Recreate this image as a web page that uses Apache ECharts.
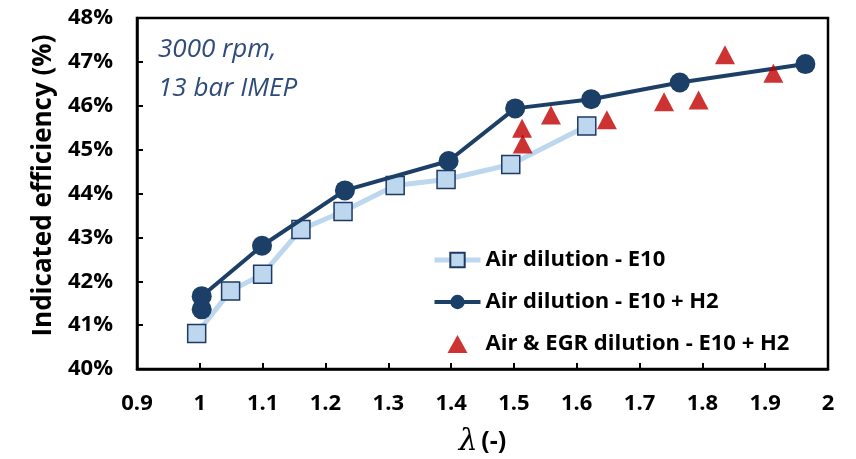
<!DOCTYPE html>
<html>
<head>
<meta charset="utf-8">
<script src="https://cdn.jsdelivr.net/npm/echarts@6/dist/echarts.min.js"></script>
<style>
  html, body { margin: 0; padding: 0; background: #fff; }
  #chart { width: 856px; height: 459px; }
</style>
</head>
<body>
<div id="chart"></div>
<script>
// Air dilution - E10
var airX = [0.995, 1.049, 1.100, 1.161, 1.228, 1.311, 1.392, 1.495, 1.616];
var airY = [40.81, 41.78, 42.16, 43.18, 43.59, 44.18, 44.32, 44.66, 45.54];

// Air dilution - E10 + H2
var h2X = [1.003, 1.003, 1.099, 1.231, 1.396, 1.502, 1.623, 1.764, 1.964];
var h2Y = [41.36, 41.66, 42.81, 44.07, 44.74, 45.94, 46.15, 46.53, 46.95];

// Air & EGR dilution - E10 + H2
var egrX = [1.513, 1.514, 1.559, 1.648, 1.739, 1.794, 1.836, 1.913];
var egrY = [45.49, 45.13, 45.79, 45.68, 46.09, 46.13, 47.16, 46.74];

var seriesNames = ['Air dilution - E10', 'Air dilution - E10 + H2', 'Air & EGR dilution - E10 + H2'];

function pairs(xs, ys) {
    return xs.map(function (x, i) { return [x, ys[i]]; });
}

var font = '"Open Sans", "Liberation Sans", sans-serif';
var triIcon = 'path://M10,0 L20,18 L0,18 Z';

var myChart = echarts.init(document.getElementById('chart'));
var option = {
    backgroundColor: '#fff',
    animation: false,
    grid: {
        left: 137,
        top: 18,
        right: 28,
        bottom: 90,
        outerBoundsMode: 'none',
        containLabel: false,
        show: true,
        borderColor: '#000',
        borderWidth: 2.5
    },
    legend: {
        orient: 'vertical',
        left: 427,
        top: 244,
        itemWidth: 46,
        itemHeight: 18,
        itemGap: 20,
        data: [
            { name: seriesNames[0], lineStyle: { width: 5 } },
            { name: seriesNames[1], lineStyle: { width: 4 } },
            { name: seriesNames[2], icon: triIcon }
        ],
        textStyle: {
            fontFamily: font,
            fontWeight: 'bold',
            fontSize: 22,
            color: '#000'
        }
    },
    graphic: [
        {
            type: 'text',
            left: 158,
            top: 30,
            style: {
                text: '3000 rpm,\n13 bar IMEP',
                fontFamily: font,
                fontStyle: 'italic',
                fontSize: 26,
                lineHeight: 39,
                fill: '#2F4B7C'
            }
        }
    ],
    xAxis: {
        type: 'value',
        min: 0.9,
        max: 2,
        interval: 0.1,
        name: '{l|λ} {b|(-)}',
        nameLocation: 'middle',
        nameGap: 58,
        nameTextStyle: {
            rich: {
                l: { fontFamily: '"DejaVu Serif", serif', fontStyle: 'italic', fontSize: 30, color: '#000' },
                b: { fontFamily: font, fontWeight: 'bold', fontSize: 25, color: '#000' }
            }
        },
        splitLine: { show: false },
        axisLine: { lineStyle: { color: '#000', width: 2.5 } },
        axisTick: { inside: true, length: 6, lineStyle: { color: '#000', width: 2 } },
        axisLabel: {
            margin: 24,
            fontFamily: font,
            fontWeight: 'bold',
            fontSize: 22,
            color: '#000',
            formatter: function (v) { return String(+v.toFixed(1)); }
        }
    },
    yAxis: {
        type: 'value',
        min: 40,
        max: 48,
        interval: 1,
        name: 'Indicated efficiency (%)',
        nameLocation: 'middle',
        nameGap: 80,
        nameTextStyle: {
            fontFamily: font,
            fontWeight: 'bold',
            fontSize: 26,
            color: '#000',
            padding: [0, 0, 0, 16]
        },
        splitLine: { show: false },
        axisLine: { lineStyle: { color: '#000', width: 2.5 } },
        axisTick: { inside: true, length: 6, lineStyle: { color: '#000', width: 2 } },
        axisLabel: {
            margin: 24,
            fontFamily: font,
            fontWeight: 'bold',
            fontSize: 22,
            color: '#000',
            formatter: '{value}%'
        }
    },
    series: [
        {
            name: seriesNames[0],
            type: 'line',
            data: pairs(airX, airY),
            symbol: 'rect',
            symbolSize: 18,
            lineStyle: { color: '#BDD7EE', width: 5 },
            itemStyle: { color: '#BDD7EE', borderColor: '#1F3864', borderWidth: 1.5 },
            z: 2
        },
        {
            name: seriesNames[1],
            type: 'line',
            data: pairs(h2X, h2Y),
            symbol: 'circle',
            symbolSize: 20,
            lineStyle: { color: '#1B3F66', width: 4 },
            itemStyle: { color: '#1B3F66' },
            z: 3
        },
        {
            name: seriesNames[2],
            type: 'scatter',
            data: pairs(egrX, egrY),
            symbol: 'triangle',
            symbolSize: [20, 19],
            itemStyle: { color: '#C00000' },
            z: 4
        }
    ]
};
myChart.setOption(option);
</script>
</body>
</html>
